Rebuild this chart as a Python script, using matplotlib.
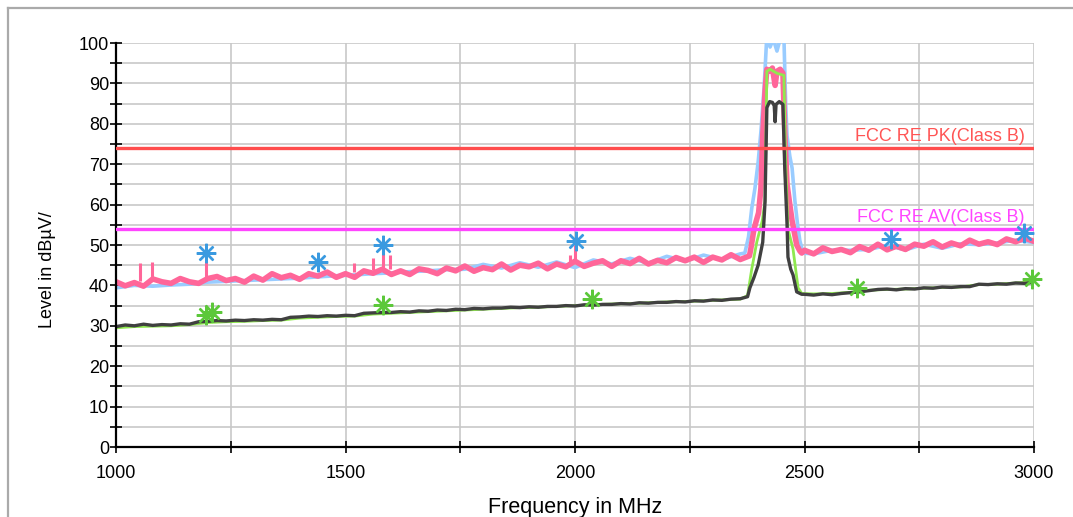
import numpy as np
import matplotlib

matplotlib.use("Agg")
import matplotlib.pyplot as plt
from matplotlib.lines import Line2D

plt.rcParams["font.family"] = ["Liberation Sans", "DejaVu Sans"]

# ---- peak trace (pink), low band 1000..2380 MHz every 20 MHz
pk_lo_f = np.arange(1000, 2381, 20)
pk_lo = [40.9, 39.9, 40.7, 39.8, 41.6, 40.9, 40.5, 41.7, 40.9, 40.5,
         41.7, 42.2, 41.2, 41.7, 40.8, 42.3, 41.3, 42.9, 41.9, 42.5,
         41.5, 42.9, 42.3, 43.3, 42.0, 42.9, 42.0, 43.6, 43.0, 44.0,
         42.7, 43.6, 42.7, 44.1, 43.7, 42.9, 44.3, 43.6, 44.8, 43.5,
         44.4, 43.9, 45.3, 43.8, 45.0, 44.6, 45.5, 44.1, 45.3, 44.6,
         46.0, 44.7, 45.5, 46.1, 44.7, 46.1, 45.4, 46.7, 45.3, 46.2,
         45.6, 46.9, 46.1, 47.0, 45.7, 47.0, 46.3, 47.6, 46.4, 47.3]
pk_mid_f = [2383, 2390, 2400, 2405, 2409, 2414, 2418, 2425, 2430, 2436,
            2440, 2447, 2453, 2457, 2462, 2468, 2473, 2478, 2483, 2490, 2494]
pk_mid = [49.0, 54.0, 58.0, 64.0, 77.0, 88.0, 93.5, 93.0, 93.8, 89.5,
          93.0, 93.5, 92.5, 78.0, 65.0, 60.0, 56.0, 53.0, 50.0, 48.5, 48.0]
pk_hi_f = np.arange(2500, 3001, 20)
pk_hi = [48.7, 47.8, 49.3, 48.4, 48.9, 48.1, 49.6, 48.7, 50.2, 48.8,
         49.7, 48.9, 50.2, 49.7, 50.8, 49.5, 50.5, 49.8, 51.2, 50.2,
         50.8, 50.1, 51.5, 50.8, 51.7, 50.9]
spike_f = [1052, 1078, 1195, 1519, 1560, 1582, 1597, 1990, 2000]
spike_base = [41.0, 41.2, 41.6, 43.4, 43.8, 43.8, 44.0, 45.6, 45.8]
spike_top = [45.5, 45.8, 46.0, 45.5, 46.8, 48.8, 47.5, 47.5, 50.0]

# ---- max-hold trace (light blue)
mx_lo_f = np.arange(1000, 2361, 40)
mx_lo = [39.4, 40.0, 39.8, 40.1, 40.3, 40.8, 41.0, 41.2, 41.4, 41.6,
         41.8, 42.1, 42.4, 42.6, 42.9, 43.1, 43.4, 43.6, 43.9, 44.0,
         45.2, 44.3, 45.6, 44.5, 45.8, 44.4, 46.3, 45.3, 46.7, 45.5,
         47.2, 46.0, 47.5, 46.4, 47.8]
mx_mid_f = [2370, 2378, 2385, 2392, 2399, 2405, 2412, 2418, 2425, 2432,
            2440, 2447, 2455, 2459, 2462, 2468, 2473, 2479, 2485, 2490, 2497]
mx_mid = [48.0, 52.0, 59.0, 64.0, 70.5, 78.0, 89.0, 102.0, 99.0, 101.0,
          98.0, 101.0, 102.0, 85.0, 77.0, 72.0, 69.0, 61.0, 55.0, 51.0, 48.0]
mx_hi_f = np.arange(2520, 3001, 40)
mx_hi = [47.8, 48.7, 48.7, 48.9, 49.9, 48.8, 50.2, 49.2, 50.3, 50.1,
         50.5, 51.2, 50.6]

# ---- average trace (dark grey)
av_lo_f = np.arange(1000, 2361, 20)
av_lo = [29.8, 30.2, 30.0, 30.4, 30.1, 30.3, 30.2, 30.5, 30.4, 31.0,
         31.1, 31.3, 31.2, 31.4, 31.3, 31.5, 31.4, 31.6, 31.5, 32.1,
         32.2, 32.4, 32.3, 32.5, 32.4, 32.6, 32.5, 33.1, 33.2, 33.3,
         33.3, 33.5, 33.4, 33.7, 33.6, 33.9, 33.8, 34.1, 34.0, 34.3,
         34.2, 34.4, 34.4, 34.6, 34.5, 34.7, 34.6, 34.8, 34.8, 35.0,
         34.9, 35.2, 35.1, 35.3, 35.3, 35.5, 35.4, 35.7, 35.6, 35.8,
         35.8, 36.0, 35.9, 36.2, 36.1, 36.4, 36.3, 36.6, 36.7]
av_mid_f = [2376, 2381, 2390, 2399, 2409, 2414, 2418, 2424, 2430, 2434,
            2436, 2438, 2445, 2453, 2457, 2462, 2464, 2470, 2475, 2483, 2494]
av_mid = [37.2, 39.4, 42.0, 45.0, 50.7, 60.6, 84.0, 85.5, 85.3, 84.5,
          80.5, 84.8, 85.5, 84.8, 69.0, 55.0, 47.0, 44.0, 42.6, 38.4, 37.8]
av_hi_f = np.arange(2500, 3001, 20)
av_hi = [37.8, 37.6, 37.9, 37.7, 38.0, 38.2, 38.4, 38.7, 39.0, 39.1,
         38.9, 39.2, 39.1, 39.4, 39.3, 39.6, 39.5, 39.7, 39.7, 40.3,
         40.2, 40.4, 40.3, 40.6, 40.5, 40.8]

# ---- average max-hold trace (light green)
ag_lo_f = np.arange(1000, 2361, 40)
ag_lo = [29.5, 29.8, 29.9, 30.0, 30.3, 30.8, 31.0, 31.1, 31.3, 31.4,
         31.9, 32.1, 32.3, 32.4, 32.9, 33.1, 33.3, 33.5, 33.7, 33.9,
         34.1, 34.3, 34.5, 34.6, 34.8, 35.0, 35.2, 35.4, 35.5, 35.7,
         35.9, 36.0, 36.2, 36.4, 36.6]
ag_mid_f = [2376, 2385, 2396, 2408, 2414, 2418, 2425, 2440, 2455, 2459,
            2464, 2475, 2486, 2494]
ag_mid = [37.5, 44.0, 50.7, 56.0, 61.0, 93.0, 93.5, 92.5, 92.0, 70.0,
          54.0, 49.0, 39.4, 38.0]
ag_hi_f = np.arange(2520, 3001, 40)
ag_hi = [37.9, 38.0, 38.3, 38.8, 39.0, 39.1, 39.3, 39.5, 39.6, 40.2,
         40.3, 40.6, 40.9]

# ---- final measurement markers
pk_mark_f = [1196, 1440, 1582, 2002, 2688, 2978]
pk_mark = [48.0, 45.8, 50.0, 51.0, 51.5, 53.0]
av_mark_f = [1196, 1209, 1582, 2037, 2614, 2996]
av_mark = [32.7, 33.4, 35.1, 36.6, 39.4, 41.6]

# ---- limits
limit_pk = 74
limit_av = 54
limit_pk_label = "FCC RE PK(Class B)"
limit_av_label = "FCC RE AV(Class B)"

x_ticks = np.arange(1000, 3001, 250)
x_labels = ["1000", "", "1500", "", "2000", "", "2500", "", "3000"]
y_major = np.arange(0, 101, 10)
y_minor = np.arange(5, 100, 10)

fig = plt.figure(figsize=(10.73, 5.17), dpi=100)
ax = fig.add_axes([116 / 1073, 1 - 447 / 517, (1034 - 116) / 1073, (447 - 43) / 517])

grid_c = "#c8c8c8"
ax.set_xlim(1000, 3000)
ax.set_ylim(0, 100)
ax.set_xticks(x_ticks)
ax.set_xticklabels(x_labels)
ax.set_yticks(y_major)
ax.set_yticks(y_minor, minor=True)
ax.grid(True, which="both", color=grid_c, lw=1.2, zorder=0)
ax.set_axisbelow(True)

for s in ("top", "right"):
    ax.spines[s].set_visible(False)
for s in ("left", "bottom"):
    ax.spines[s].set_linewidth(1.6)
    ax.spines[s].set_zorder(5)
ax.tick_params(which="both", direction="inout", length=8, width=1.2, labelsize=13)
ax.tick_params(axis="x", pad=9)
ax.tick_params(axis="y", pad=1)


def seg(a, b, c, d, e, f):
    return np.concatenate([a, c, e]), np.concatenate([b, d, f])


f, v = seg(mx_lo_f, mx_lo, mx_mid_f, mx_mid, mx_hi_f, mx_hi)
ax.plot(f, v, color="#99ccff", lw=2.6, zorder=2)
f, v = seg(pk_lo_f, pk_lo, pk_mid_f, pk_mid, pk_hi_f, pk_hi)
ax.plot(f, v, color="#ff6699", lw=4.0, zorder=3)
ax.vlines(spike_f, spike_base, spike_top, color="#ff6699", lw=2.2, zorder=3)
f, v = seg(ag_lo_f, ag_lo, ag_mid_f, ag_mid, ag_hi_f, ag_hi)
ax.plot(f, v, color="#8fe84f", lw=2.0, zorder=3)
f, v = seg(av_lo_f, av_lo, av_mid_f, av_mid, av_hi_f, av_hi)
ax.plot(f, v, color="#404040", lw=2.4, zorder=4)

ax.axhline(limit_pk, color="#ff4d4d", lw=2.4, zorder=6)
ax.axhline(limit_av, color="#ff44ff", lw=2.4, zorder=6)
ax.text(2980, limit_pk + 0.7, limit_pk_label, color="#ff5555", fontsize=13,
        ha="right", va="bottom", zorder=7)
ax.text(2980, limit_av + 0.7, limit_av_label, color="#ff44ff", fontsize=13,
        ha="right", va="bottom", zorder=7)

star = (8, 2, 0)
ax.plot(pk_mark_f, pk_mark, ls="none", marker=star, ms=14, mew=1.7,
        color="#3a9ae0", zorder=8, clip_on=False)
ax.plot(av_mark_f, av_mark, ls="none", marker=star, ms=14, mew=1.7,
        color="#5cc83a", zorder=8, clip_on=False)

ax.set_xlabel("Frequency in MHz", fontsize=15.5)
ax.xaxis.set_label_coords(0.5, -0.125)
ax.set_ylabel("Level in dBµV/", fontsize=13)
ax.yaxis.set_label_coords(-0.065, 0.44)

# outer frame (left and top edges only)
fig.add_artist(Line2D([7.5 / 1073, 7.5 / 1073], [0, 1 - 7.5 / 517], color="#aaaaaa", lw=1.6))
fig.add_artist(Line2D([7.5 / 1073, 1], [1 - 7.5 / 517, 1 - 7.5 / 517], color="#aaaaaa", lw=1.6))

fig.savefig("out.png", dpi=100)
